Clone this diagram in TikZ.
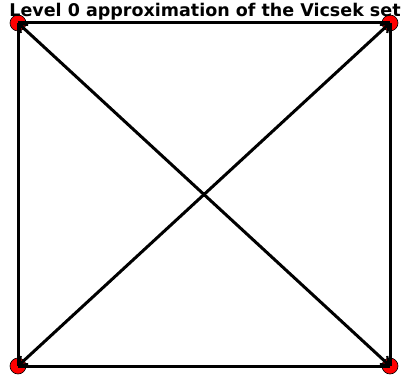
\documentclass[tikz,border=0pt]{standalone}
\usepackage{fontspec}
\setmainfont{DejaVu Sans}
\usetikzlibrary{arrows.meta}
\begin{document}
\begin{tikzpicture}[x=1pt,y=-1pt,
  vert/.style={circle,fill=red,draw=black,line width=0.6pt,minimum size=16pt,inner sep=0pt},
  edge/.style={line width=3pt,black},
  darr/.style={edge,{Straight Barb[length=7pt,width=11pt,line width=2.2pt]}-{Straight Barb[length=7pt,width=11pt,line width=2.2pt]}}]
\useasboundingbox (0,0) rectangle (401,379);
\node[vert] (tl) at (18,23) {};
\node[vert] (tr) at (390,23) {};
\node[vert] (bl) at (18,366) {};
\node[vert] (br) at (390,366) {};
\draw[edge] (tl.center) -- (tr.center);
\draw[edge] (tr.center) -- (br.center);
\draw[edge] (br.center) -- (bl.center);
\draw[edge] (bl.center) -- (tl.center);
\draw[darr] (tl.center) -- (br.center);
\draw[darr] (tr.center) -- (bl.center);
\node[font=\bfseries\fontsize{17.5}{20}\selectfont,anchor=base,inner sep=0pt] (title) at (205,17) {Level 0 approximation of the Vicsek set};
\end{tikzpicture}
\end{document}
